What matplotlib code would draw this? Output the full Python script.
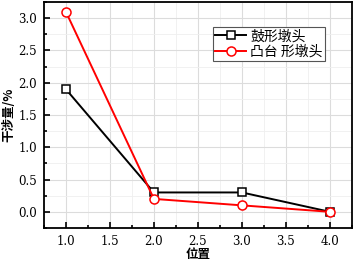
import matplotlib
matplotlib.use('Agg')
import matplotlib.pyplot as plt
from matplotlib.ticker import MultipleLocator

plt.rcParams['font.family'] = ['Noto Sans CJK SC', 'DejaVu Sans']

# data
pos = [1.0, 2.0, 3.0, 4.0]
drum = [1.9, 0.3, 0.3, 0.0]      # 鼓形墩头
boss = [3.1, 0.2, 0.1, 0.0]      # 凸台 形墩头
labels = ['鼓形墩头', '凸台 形墩头']

fig = plt.figure(figsize=(3.54, 2.62), dpi=100)
ax = fig.add_axes([0.124, 0.130, 0.870, 0.862])

ax.plot(pos, drum, color='black', lw=1.4, marker='s', ms=5.5,
        mfc='white', mec='black', mew=1.1, label=labels[0], zorder=3)
ax.plot(pos, boss, color='red', lw=1.4, marker='o', ms=6.5,
        mfc='white', mec='red', mew=1.1, label=labels[1], zorder=3)

ax.set_xlim(0.75, 4.25)
ax.set_ylim(-0.25, 3.25)
ax.xaxis.set_major_locator(MultipleLocator(0.5))
ax.xaxis.set_minor_locator(MultipleLocator(0.25))
ax.yaxis.set_major_locator(MultipleLocator(0.5))
ax.yaxis.set_minor_locator(MultipleLocator(0.25))
ax.grid(which='major', color='#dcdcdc', lw=0.8)
ax.grid(which='minor', color='#efefef', lw=0.6)
ax.set_axisbelow(True)

ax.tick_params(which='both', direction='in', top=False, right=False, width=1.2)
ax.tick_params(which='major', length=4, pad=5)
ax.tick_params(which='minor', length=2)
for lab in ax.get_xticklabels() + ax.get_yticklabels():
    lab.set_family('DejaVu Serif')
    lab.set_fontsize(8.5)
for sp in ax.spines.values():
    sp.set_linewidth(1.3)

ax.set_xlabel('位置', fontsize=9, fontweight='bold', labelpad=0)
ax.set_ylabel('干涉量/%', fontsize=9, fontweight='bold', labelpad=2)

leg = ax.legend(loc='upper right', bbox_to_anchor=(0.912, 0.889), fontsize=10,
                fancybox=False, framealpha=1, edgecolor='#555555',
                handlelength=2.2, borderpad=0.15, labelspacing=0.1,
                handletextpad=0.3, borderaxespad=0)
leg.get_frame().set_linewidth(0.8)

fig.savefig('out.png', dpi=100)
